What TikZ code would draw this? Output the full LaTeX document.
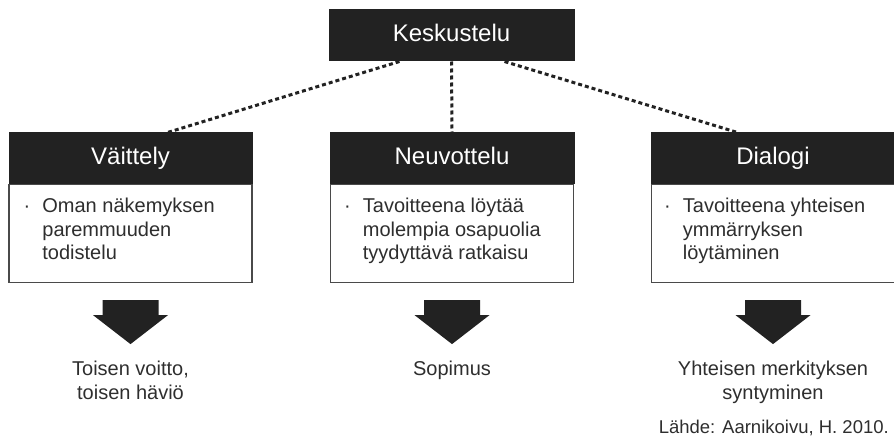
\documentclass[tikz,border=0pt]{standalone}
\usepackage{fontspec}
\setmainfont{Liberation Sans}
\usetikzlibrary{calc}
\definecolor{boxdark}{HTML}{222222}
\definecolor{txtgray}{HTML}{2E2E2E}
\definecolor{edgegray}{HTML}{4A4A4A}
\begin{document}
\begin{tikzpicture}[x=1pt,y=-1pt,
  darkbox/.style={fill=boxdark, draw=boxdark, line width=1pt, text=white, inner sep=0pt,
    text height=12.6pt, text depth=0pt, font=\fontsize{24}{28}\selectfont},
  bodybox/.style={draw=edgegray, line width=1.6pt, fill=white, inner sep=0pt,
    minimum width=243pt, minimum height=98pt},
  bodytext/.style={anchor=base west, inner sep=0pt, text=txtgray, font=\fontsize{20}{23.5}\selectfont},
  resulttext/.style={anchor=base, inner sep=0pt, text=txtgray, font=\fontsize{20}{24}\selectfont},
  dotline/.style={line width=3pt, dash pattern=on 4pt off 3pt, draw=boxdark},
  blockarrow/.style={fill=boxdark}
]
\useasboundingbox (0,0) rectangle (894,441);

% top box
\node[darkbox, minimum width=245pt, minimum height=51pt] (k) at (451.5,35.5) {Keskustelu};

% headers
\node[darkbox, minimum width=243pt, minimum height=50pt] (h1) at (130.5,158) {Väittely};
\node[darkbox, minimum width=244pt, minimum height=50pt] (h2) at (452,158) {Neuvottelu};
\node[darkbox, minimum width=244pt, minimum height=50pt] (h3) at (773,158) {Dialogi};

% bodies
\node[bodybox, anchor=north] (b1) at (h1.south) {};
\node[bodybox, anchor=north] (b2) at (h2.south) {};
\node[bodybox, anchor=north] (b3) at (h3.south) {};
\fill[boxdark] (h1.south west) rectangle (h1.north east);
\fill[boxdark] (h2.south west) rectangle (h2.north east);
\fill[boxdark] (h3.south west) rectangle (h3.north east);
\node[darkbox, fill=none, draw=none, minimum width=243pt, minimum height=50pt] (t1) at (h1.center) {Väittely};
\node[darkbox, fill=none, draw=none, minimum width=244pt, minimum height=50pt] (t2) at (h2.center) {Neuvottelu};
\node[darkbox, fill=none, draw=none, minimum width=244pt, minimum height=50pt] (t3) at (h3.center) {Dialogi};

% body texts
\node[bodytext] (x1) at ($(b1.north west)+(34,29)$)
  {\llap{·\hspace{12pt}}\begin{tabular}[t]{@{}l@{}}Oman näkemyksen\\paremmuuden\\todistelu\end{tabular}};
\node[bodytext] (x2) at ($(b2.north west)+(33,29)$)
  {\llap{·\hspace{12pt}}\begin{tabular}[t]{@{}l@{}}Tavoitteena löytää\\molempia osapuolia\\tyydyttävä ratkaisu\end{tabular}};
\node[bodytext] (x3) at ($(b3.north west)+(32,29)$)
  {\llap{·\hspace{12pt}}\begin{tabular}[t]{@{}l@{}}Tavoitteena yhteisen\\ymmärryksen\\löytäminen\end{tabular}};

% dotted connectors
\draw[dotline] ($(k.south west)+(71,0)$) -- ($(h1.north west)+(159,0)$);
\draw[dotline] (k.south) -- (h2.north);
\draw[dotline] ($(k.south west)+(176,0)$) -- ($(h3.north west)+(87,0)$);

% block arrows
\foreach \b in {b1,b2,b3}{
  \fill[blockarrow] ($(\b.south)+(-28,17)$) -- ($(\b.south)+(28,17)$) -- ($(\b.south)+(28,32)$)
    -- ($(\b.south)+(37.5,32)$) -- ($(\b.south)+(0,61)$) -- ($(\b.south)+(-37.5,32)$)
    -- ($(\b.south)+(-28,32)$) -- cycle;
}

% results
\node[resulttext] (r1) at ($(b1.south)+(0,92)$) {\begin{tabular}[t]{@{}c@{}}Toisen voitto,\\toisen häviö\end{tabular}};
\node[resulttext] (r2) at ($(b2.south)+(0,92)$) {\begin{tabular}[t]{@{}c@{}}Sopimus\end{tabular}};
\node[resulttext] (r3) at ($(b3.south)+(0,92)$) {\begin{tabular}[t]{@{}c@{}}Yhteisen merkityksen\\syntyminen\end{tabular}};

% source
\node[anchor=base east, inner sep=0pt, text=txtgray, font=\fontsize{18.5}{22}\selectfont] (src) at (889,433) {Lähde: Aarnikoivu, H. 2010.};
\end{tikzpicture}
\end{document}
